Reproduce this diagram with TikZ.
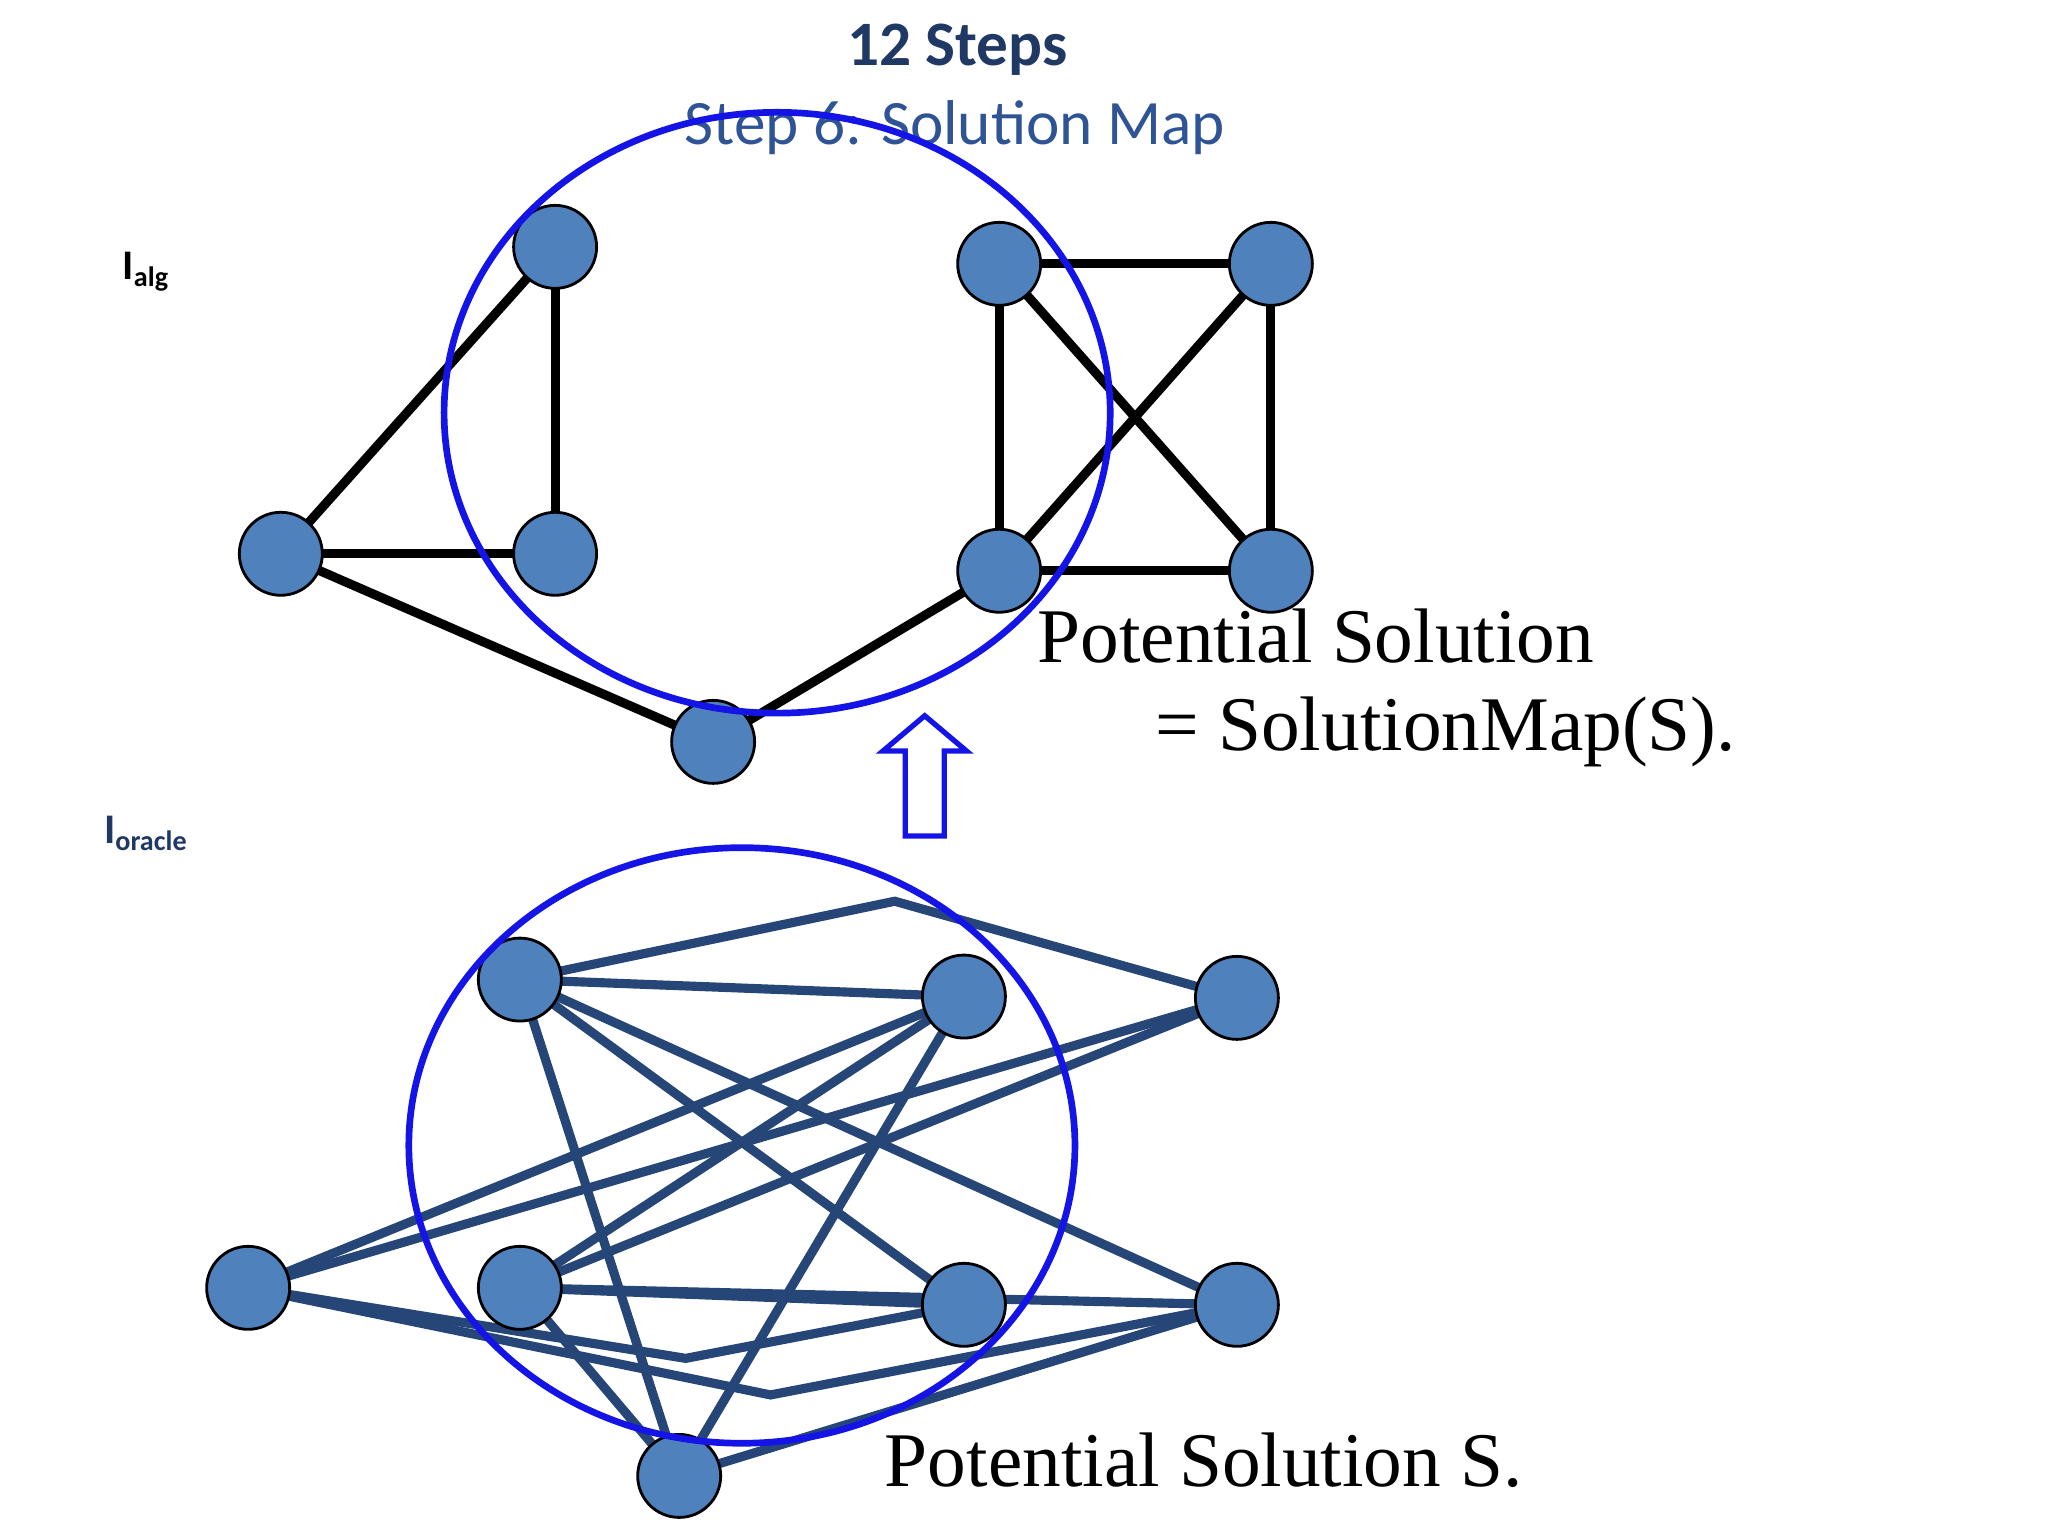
\documentclass[tikz,border=0pt]{standalone}
\usepackage{fontspec}
\setmainfont{Liberation Serif}
\newfontfamily\carlitofont{Carlito}
\begin{document}
\begin{tikzpicture}[x=0.01306cm,y=-0.01306cm,
  nd/.style={circle,draw=black,line width=0.8pt,fill={rgb,255:red,79;green,129;blue,189},minimum size=0.83cm,inner sep=0pt},
  te/.style={line width=2.6pt,black},
  be/.style={line width=2.6pt,color={rgb,255:red,38;green,70;blue,120}},
  ring/.style={draw={rgb,255:red,20;green,20;blue,230},line width=1.9pt}]
\useasboundingbox (0,0) rectangle (1568,1176);
\fill[white] (0,0) rectangle (1568,1176);
\node[font=\carlitofont\bfseries\fontsize{18}{20}\selectfont,text={rgb,255:red,31;green,56;blue,100}] (t1) at (733,38) {12 Steps};
\node[font=\carlitofont\fontsize{18}{20}\selectfont,text={rgb,255:red,47;green,84;blue,150}] (t2) at (731,98) {Step 6: Solution Map};
\node[font=\carlitofont\bfseries\fontsize{12}{13}\selectfont] (la) at (112,208) {I\textsubscript{alg}};
\node[font=\carlitofont\bfseries\fontsize{12}{13}\selectfont,text={rgb,255:red,31;green,56;blue,100}] (lo) at (112,638) {I\textsubscript{oracle}};
% top graph
\foreach \n/\x/\y in {A/425/189,B/215/424,C/425/424,D/546/568,E/765/202,F/973/202,G/765/437,H/973/437}
  \coordinate (\n) at (\x,\y);
\foreach \a/\b in {A/B,A/C,B/C,B/D,D/G,E/F,E/G,E/H,F/G,F/H,G/H}
  \draw[te] (\a) -- (\b);
\foreach \n in {A,B,C,D,E,F,G,H} \node[nd] (n\n) at (\n) {};
\draw[ring] (595,316) ellipse [x radius=255,y radius=230];
% arrow
\draw[draw={rgb,255:red,20;green,20;blue,230},line width=1.5pt,fill=white] (693,640) -- (693,575) -- (676,575) -- (708,548) -- (740,575) -- (723,575) -- (723,640) -- cycle;
% bottom graph
\foreach \n/\x/\y in {P1/398/750,P2/738/763,P3/947/764,P4/190/986,P5/398/986,P6/738/999,P7/947/999,P8/520/1130}
  \coordinate (\n) at (\x,\y);
\coordinate (k1) at (685,690);
\coordinate (k2) at (525,1040);
\coordinate (k3) at (590,1068);
\draw[be] (P1) -- (k1) -- (P3);
\draw[be] (P4) -- (k2) -- (P6);
\draw[be] (P4) -- (k3) -- (P7);
\foreach \a/\b in {P1/P2,P1/P6,P1/P7,P1/P8,P2/P4,P2/P5,P2/P8,P3/P4,P3/P5,P5/P6,P5/P7,P5/P8,P8/P7}
  \draw[be] (\a) -- (\b);
\foreach \n in {P1,P2,P3,P4,P5,P6,P7,P8} \node[nd] (n\n) at (\n) {};
\draw[ring] (568,877) ellipse [x radius=255,y radius=228];
\node[font=\fontsize{22}{25}\selectfont,anchor=west] (s1) at (785,487) {Potential Solution};
\node[font=\fontsize{22}{25}\selectfont,anchor=west] (s2) at (875,560) {= SolutionMap(S).};
\node[font=\fontsize{22}{25}\selectfont,anchor=west] (s3) at (668,1118) {Potential Solution S.};
\end{tikzpicture}
\end{document}
